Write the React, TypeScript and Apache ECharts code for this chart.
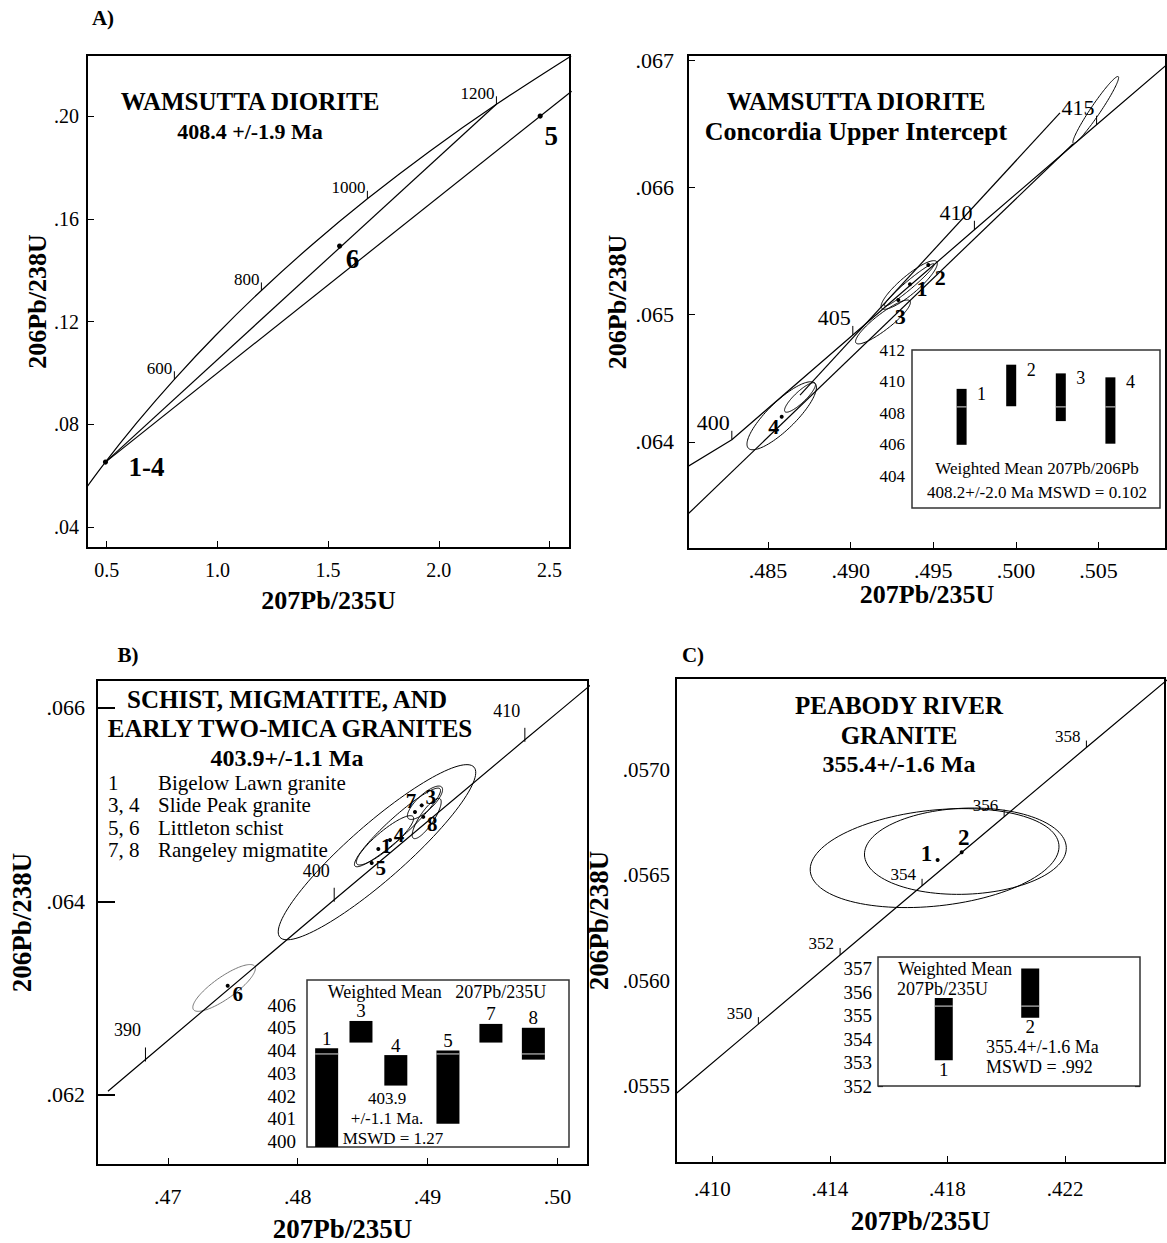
import React, { useEffect, useRef } from "react";
import * as echarts from "echarts";

const FONT = '"Liberation Serif", "DejaVu Serif", serif';

// ---------------- Panel A (left) ----------------
const aLeftConcordiaAges = [300, 400, 500, 600, 700, 800, 900, 1000, 1100, 1200, 1300];
const aLeftConcordiaX = [0.34374, 0.48281, 0.63628, 0.80563, 0.99251, 1.19873, 1.42629, 1.67741, 1.95452, 2.2603, 2.59774];
const aLeftConcordiaY = [0.047637, 0.064016, 0.08065, 0.097544, 0.114702, 0.132129, 0.149828, 0.167804, 0.186061, 0.204603, 0.223435];
const aLeftTickAges = [600, 800, 1000, 1200];
const aLeftPointLabels = ["1-4", "6", "5"];
const aLeftPointX = [0.4945, 1.552, 2.458];
const aLeftPointY = [0.0653, 0.1494, 0.2];
const aLeftDiscordUpperX = [0.4945, 2.26];
const aLeftDiscordUpperY = [0.0653, 0.2046];
const aLeftDiscordLowerX = [0.4945, 2.6];
const aLeftDiscordLowerY = [0.0653, 0.2097];
const aLeftXTicks = [0.5, 1.0, 1.5, 2.0, 2.5];
const aLeftYTicks = [0.04, 0.08, 0.12, 0.16, 0.2];

// ---------------- Panel A (right) ----------------
const aRightConcordiaAges = [398, 400, 405, 410, 415, 420];
const aRightConcordiaX = [0.479893, 0.482811, 0.490131, 0.497488, 0.50488, 0.512308];
const aRightConcordiaY = [0.063786, 0.064016, 0.064841, 0.065668, 0.066494, 0.067322];
const aRightTickAges = [400, 405, 410, 415];
const aRightLowerLineX = [0.48016, 0.503451];
const aRightLowerLineY = [0.063432, 0.066343];
const aRightUpperLineX = [0.486936, 0.502665];
const aRightUpperLineY = [0.064368, 0.066587];
// ellipses: [cx, cy, ax, ay, bx, by] (centre and two conjugate half-axes, data units)
const aRightEllipses = [
  [0.485829, 0.064205, 0.002015, 0.0002557, 0.000593, -0.0000787],
  [0.486936, 0.064349, 0.000907, 0.0001117, 0.00023, -0.0000315],
  [0.493542, 0.065234, 0.001664, 0.0001833, 0.000351, -0.0000543],
  [0.493542, 0.065234, 0.0015, 0.000165, 0.000157, -0.0000244],
  [0.491957, 0.064943, 0.001633, 0.0001652, 0.000296, -0.0000496],
  [0.50483, 0.066611, 0.001361, 0.000262, 0.000248, -0.000022],
];
const aRightPointLabels = ["1", "2", "3", "4"];
const aRightPointX = [0.49359, 0.494698, 0.492883, 0.485829];
const aRightPointY = [0.065239, 0.065391, 0.065116, 0.064197];
const aRightXTicks = [0.485, 0.49, 0.495, 0.5, 0.505];
const aRightYTicks = [0.064, 0.065, 0.066, 0.067];

// inset A (207Pb/206Pb ages)
const aInsetIds = ["1", "2", "3", "4"];
const aInsetPos = [1, 2, 3, 4];
const aInsetLow = [406.0, 408.44, 407.5, 406.07];
const aInsetHigh = [409.54, 411.07, 410.52, 410.27];
const aInsetMean = 408.4;
const aInsetMeanSpan = [0.26, 4.76];
const aInsetYLabels = [404, 406, 408, 410, 412];

// ---------------- Panel B ----------------
const bConcordiaAges = [388, 390, 400, 410, 412, 414];
const bConcordiaX = [0.465392, 0.468281, 0.482811, 0.497488, 0.50044, 0.503399];
const bConcordiaY = [0.062037, 0.062366, 0.064016, 0.065668, 0.065998, 0.066329];
const bTickAges = [390, 400, 410];
const bEllipses = [
  [0.486105, 0.064507, 0.007467, 0.000879, 0.001432, -0.000214],
  [0.487683, 0.064763, 0.003272, 0.000399, 0.000523, -0.0000757],
  [0.486721, 0.06463, 0.002156, 0.000245, 0.000454, -0.0000695],
  [0.4898, 0.065018, 0.001286, 0.000162, 0.000423, -0.0000593],
  [0.489931, 0.064855, 0.001024, 0.000204, 0.000447, -0.0000399],
];
const bEllipseSix = [[0.474334, 0.063105, 0.002356, 0.000224, 0.000493, -0.000091]];
const bPointLabels = ["5", "1", "4", "7", "3", "8", "6"];
const bPointX = [0.485697, 0.486205, 0.487106, 0.48903, 0.489546, 0.489669, 0.474611];
const bPointY = [0.064395, 0.064541, 0.064633, 0.064923, 0.064991, 0.064872, 0.063127];
const bXTicks = [0.47, 0.48, 0.49, 0.5];
const bYTicks = [0.062, 0.064, 0.066];
const bLegendIds = ["1", "3, 4", "5, 6", "7, 8"];
const bLegendNames = ["Bigelow Lawn granite", "Slide Peak granite", "Littleton schist", "Rangeley migmatite"];

// inset B (207Pb/235U ages)
const bInsetIds = ["1", "3", "4", "5", "7", "8"];
const bInsetPos = [7.5, 20.6, 33.9, 53.8, 70.2, 86.4];
const bInsetLow = [399.5, 404.35, 402.46, 400.78, 404.35, 403.6];
const bInsetHigh = [404.1, 405.3, 403.8, 404.0, 405.17, 405.0];
const bInsetMean = 403.85;
const bInsetMeanSpan = [0, 100];
const bInsetYLabels = [400, 401, 402, 403, 404, 405, 406];

// ---------------- Panel C ----------------
const cConcordiaAges = [348, 350, 352, 354, 356, 358, 360];
const cConcordiaX = [0.408786, 0.411564, 0.414346, 0.417135, 0.419929, 0.422728, 0.425534];
const cConcordiaY = [0.055467, 0.055794, 0.056122, 0.05645, 0.056778, 0.057106, 0.057434];
const cTickAges = [350, 352, 354, 356, 358];
const cEllipses = [
  [0.417562, 0.0565816, 0.00423, 0.0000636, 0.000174, -0.000226],
  [0.41861, 0.0566143, 0.003434, 0.000018, 0.0000545, -0.000204],
];
const cPointLabels = ["1", "2"];
const cPointX = [0.417664, 0.418484];
const cPointY = [0.0565726, 0.0566091];
const cXTicks = [0.41, 0.414, 0.418, 0.422];
const cYTicks = [0.0555, 0.056, 0.0565, 0.057];

// inset C
const cInsetIds = ["1", "2"];
const cInsetPos = [25.1, 58.1];
const cInsetLow = [353.1, 354.9];
const cInsetHigh = [355.75, 357.0];
const cInsetMean = 355.4;
const cInsetMeanSpan = [0, 82.8];
const cInsetYLabels = [352, 353, 354, 355, 356, 357];

// ---------------- helpers ----------------
const strip0 = (s: string) => s.replace(/^0/, "");
const pick = (ages: number[], arr: number[], sel: number[]) => sel.map((a) => arr[ages.indexOf(a)]);

function lineSeries(xi: number, xs: number[], ys: number[], opt: any = {}) {
  return {
    type: "line",
    xAxisIndex: xi,
    yAxisIndex: xi,
    data: xs.map((x, i) => [x, ys[i]]),
    symbol: "none",
    smooth: opt.smooth ?? false,
    clip: true,
    silent: true,
    z: 3,
    lineStyle: { color: opt.color ?? "#000", width: opt.width ?? 1.2 },
  };
}

function ellipseSeries(xi: number, items: number[][], color = "#000", width = 1) {
  return {
    type: "custom",
    xAxisIndex: xi,
    yAxisIndex: xi,
    clip: true,
    silent: true,
    z: 3,
    data: items,
    renderItem: (_p: any, api: any) => {
      const cx = api.value(0), cy = api.value(1), ax = api.value(2), ay = api.value(3), bx = api.value(4), by = api.value(5);
      const pts: number[][] = [];
      for (let k = 0; k <= 120; k++) {
        const t = (k / 120) * Math.PI * 2;
        pts.push(api.coord([cx + ax * Math.cos(t) + bx * Math.sin(t), cy + ay * Math.cos(t) + by * Math.sin(t)]));
      }
      return { type: "polyline", shape: { points: pts }, style: { fill: null, stroke: color, lineWidth: width } };
    },
  };
}

function concTickSeries(xi: number, xs: number[], ys: number[], ages: number[], cfg: any) {
  return {
    type: "custom",
    xAxisIndex: xi,
    yAxisIndex: xi,
    clip: false,
    silent: true,
    z: 4,
    data: xs.map((x, i) => [x, ys[i], ages[i]]),
    renderItem: (_p: any, api: any) => {
      const p = api.coord([api.value(0), api.value(1)]);
      return {
        type: "group",
        children: [
          { type: "line", shape: { x1: p[0], y1: p[1] + cfg.t1, x2: p[0], y2: p[1] + cfg.t2 }, style: { stroke: "#000", lineWidth: 1 } },
          {
            type: "text",
            x: p[0] + cfg.lx,
            y: p[1] + cfg.ly,
            style: { text: String(api.value(2)), font: `${cfg.size}px ${FONT}`, fill: "#000", textAlign: cfg.align, textVerticalAlign: "middle" },
          },
        ],
      };
    },
  };
}

function pointSeries(xi: number, labels: string[], xs: number[], ys: number[], offsets: number[][], size: number, r: number) {
  return {
    type: "custom",
    xAxisIndex: xi,
    yAxisIndex: xi,
    clip: false,
    silent: true,
    z: 6,
    data: xs.map((x, i) => [x, ys[i], i]),
    renderItem: (_p: any, api: any) => {
      const i = api.value(2);
      const p = api.coord([api.value(0), api.value(1)]);
      return {
        type: "group",
        children: [
          { type: "circle", shape: { cx: p[0], cy: p[1], r }, style: { fill: "#000" } },
          {
            type: "text",
            x: p[0] + offsets[i][0],
            y: p[1] + offsets[i][1],
            style: { text: labels[i], font: `bold ${size}px ${FONT}`, fill: "#000", textAlign: "center", textVerticalAlign: "middle" },
          },
        ],
      };
    },
  };
}

function barsSeries(xi: number, ids: string[], pos: number[], low: number[], high: number[], mean: number, cfg: any) {
  return {
    type: "custom",
    xAxisIndex: xi,
    yAxisIndex: xi,
    clip: true,
    silent: true,
    z: 6,
    data: pos.map((p, i) => [p, low[i], high[i], i]),
    renderItem: (_p: any, api: any) => {
      const i = api.value(3);
      const top = api.coord([api.value(0), api.value(2)]);
      const bot = api.coord([api.value(0), api.value(1)]);
      const m = api.coord([api.value(0), mean]);
      const w = cfg.w;
      const children: any[] = [
        { type: "rect", shape: { x: top[0] - w / 2, y: top[1], width: w, height: bot[1] - top[1] }, style: { fill: "#000" } },
      ];
      if (api.value(1) < mean && api.value(2) > mean) {
        children.push({ type: "line", shape: { x1: top[0] - w / 2, y1: m[1], x2: top[0] + w / 2, y2: m[1] }, style: { stroke: "#bbb", lineWidth: 1.2 } });
      }
      const ly = cfg.below ? bot[1] + cfg.ly : top[1] + cfg.ly;
      children.push({
        type: "text",
        x: top[0] + cfg.lx,
        y: ly,
        style: { text: ids[i], font: `${cfg.size}px ${FONT}`, fill: "#000", textAlign: "center", textVerticalAlign: "middle" },
      });
      return { type: "group", children };
    },
  };
}

function meanSeries(xi: number, span: number[], mean: number, color: string, width: number) {
  return {
    type: "line",
    xAxisIndex: xi,
    yAxisIndex: xi,
    data: span.map((x) => [x, mean]),
    symbol: "none",
    silent: true,
    z: 4,
    lineStyle: { color, width },
  };
}

function mainX(gi: number, min: number, max: number, ticks: number[], fmt: any, gap: number, margin: number, size: number, nameSize: number) {
  return {
    type: "value",
    gridIndex: gi,
    min,
    max,
    name: "207Pb/235U",
    nameLocation: "middle",
    nameGap: gap,
    nameTextStyle: { fontFamily: FONT, fontSize: nameSize, fontWeight: "bold", color: "#000" },
    axisLine: { show: false },
    splitLine: { show: false },
    axisTick: { show: true, inside: true, length: 7, lineStyle: { color: "#000", width: 1 }, customValues: ticks },
    axisLabel: { show: true, customValues: ticks, formatter: fmt, fontFamily: FONT, fontSize: size, color: "#000", margin },
  };
}

function mainY(gi: number, min: number, max: number, ticks: number[], fmt: any, gap: number, margin: number, size: number, nameSize: number, tickLen = 7, tickW = 1, showTick = true) {
  return {
    type: "value",
    gridIndex: gi,
    min,
    max,
    name: "206Pb/238U",
    nameLocation: "middle",
    nameGap: gap,
    nameTextStyle: { fontFamily: FONT, fontSize: nameSize, fontWeight: "bold", color: "#000" },
    axisLine: { show: false },
    splitLine: { show: false },
    axisTick: { show: showTick, inside: true, length: tickLen, lineStyle: { color: "#000", width: tickW }, customValues: ticks },
    axisLabel: { show: true, customValues: ticks, formatter: fmt, fontFamily: FONT, fontSize: size, color: "#000", margin },
  };
}

function insetX(gi: number, min: number, max: number) {
  return { type: "value", gridIndex: gi, min, max, show: false, splitLine: { show: false } };
}

function insetY(gi: number, min: number, max: number, labels: number[], size: number, margin: number, position = "left", showLabel = true) {
  return {
    type: "value",
    gridIndex: gi,
    min,
    max,
    position,
    axisLine: { show: false },
    splitLine: { show: false },
    axisTick: { show: true, inside: true, length: 5, lineStyle: { color: "#000", width: 1.2 }, customValues: labels },
    axisLabel: { show: showLabel, customValues: labels, fontFamily: FONT, fontSize: size, color: "#000", margin },
  };
}

function txt(text: string, x: number, y: number, size: number, bold = false, align = "center") {
  return {
    type: "text",
    x,
    y,
    z: 20,
    style: { text, font: `${bold ? "bold " : ""}${size}px ${FONT}`, fill: "#000", textAlign: align, textVerticalAlign: "middle" },
  };
}

function buildOption() {
  const frame = { show: true, borderColor: "#000", borderWidth: 2, backgroundColor: "transparent", containLabel: false };
  const insetFrame = { show: true, borderColor: "#333", borderWidth: 1.5, backgroundColor: "#fff", containLabel: false, z: 5 };
  const grid = [
    { ...frame, left: 87, top: 55, width: 483, height: 493 },
    { ...frame, left: 688, top: 55, width: 478, height: 494 },
    { ...frame, left: 97, top: 680, width: 491, height: 490 },
    { ...frame, left: 676, top: 678, width: 489, height: 485 },
    { ...insetFrame, left: 912, top: 350, width: 248, height: 158 },
    { ...insetFrame, left: 307, top: 980, width: 262, height: 167 },
    { ...insetFrame, left: 878, top: 957, width: 262, height: 129 },
  ];

  const xAxis = [
    mainX(0, 0.411, 2.5926, aLeftXTicks, (v: number) => v.toFixed(1), 39, 12, 20, 26),
    mainX(1, 0.48016, 0.50908, aRightXTicks, (v: number) => strip0(v.toFixed(3)), 32, 10, 22, 26),
    mainX(2, 0.46455, 0.50235, bXTicks, (v: number) => strip0(v.toFixed(2)), 50, 20, 22, 27),
    mainX(3, 0.408761, 0.425403, cXTicks, (v: number) => strip0(v.toFixed(3)), 44, 15, 21, 27),
    insetX(4, 0, 5),
    insetX(5, 0, 100),
    insetX(6, 0, 100),
  ];
  const yAxis = [
    mainY(0, 0.03186, 0.22379, aLeftYTicks, (v: number) => strip0(v.toFixed(2)), 36, 8, 20, 26),
    mainY(1, 0.063157, 0.067043, aRightYTicks, (v: number) => strip0(v.toFixed(3)), 58, 14, 22, 26),
    mainY(2, 0.061276, 0.066286, bYTicks, (v: number) => strip0(v.toFixed(3)), 62, 12, 22, 27, 18, 2),
    mainY(3, 0.055135, 0.057436, cYTicks, (v: number) => strip0(v.toFixed(4)), 64, 6, 21, 27, 7, 1, false),
    insetY(4, 402, 412, aInsetYLabels, 17, 7),
    insetY(5, 399.76, 407.1, bInsetYLabels, 19, 11),
    insetY(6, 352, 357.49, cInsetYLabels, 19, 6),
    insetY(4, 402, 412, [406, 408, 410], 17, 7, "right", false),
    insetY(5, 399.76, 407.1, bInsetYLabels, 19, 11, "right", false),
    insetY(6, 352, 357.49, cInsetYLabels, 19, 6, "right", false),
  ];

  const series: any[] = [
    // A left
    lineSeries(0, aLeftConcordiaX, aLeftConcordiaY, { smooth: 0.35 }),
    lineSeries(0, aLeftDiscordUpperX, aLeftDiscordUpperY),
    lineSeries(0, aLeftDiscordLowerX, aLeftDiscordLowerY),
    concTickSeries(0, pick(aLeftConcordiaAges, aLeftConcordiaX, aLeftTickAges), pick(aLeftConcordiaAges, aLeftConcordiaY, aLeftTickAges), aLeftTickAges, { t1: 0, t2: -8, lx: -2, ly: -11, size: 17, align: "right" }),
    pointSeries(0, aLeftPointLabels, aLeftPointX, aLeftPointY, [[41, 5], [13, 13], [11, 20]], 27, 2.6),
    // A right
    lineSeries(1, aRightConcordiaX, aRightConcordiaY),
    lineSeries(1, aRightLowerLineX, aRightLowerLineY),
    lineSeries(1, aRightUpperLineX, aRightUpperLineY),
    ellipseSeries(1, aRightEllipses),
    concTickSeries(1, pick(aRightConcordiaAges, aRightConcordiaX, aRightTickAges), pick(aRightConcordiaAges, aRightConcordiaY, aRightTickAges), aRightTickAges, { t1: 0, t2: -9, lx: -2, ly: -17, size: 22, align: "right" }),
    pointSeries(1, aRightPointLabels, aRightPointX, aRightPointY, [[12, 4], [12, 12], [2, 17], [-8, 10]], 22, 2),
    // B
    lineSeries(2, bConcordiaX, bConcordiaY),
    ellipseSeries(2, bEllipses),
    ellipseSeries(2, bEllipseSix, "#777", 1),
    concTickSeries(2, pick(bConcordiaAges, bConcordiaX, bTickAges), pick(bConcordiaAges, bConcordiaY, bTickAges), bTickAges, { t1: -12, t2: 2, lx: -18, ly: -29, size: 18, align: "center" }),
    pointSeries(2, bPointLabels, bPointX, bPointY, [[9, 5], [8, -3], [9, -5], [-4, -11], [9, -8], [9, 7], [10, 8]], 21, 2),
    // C
    lineSeries(3, cConcordiaX, cConcordiaY),
    ellipseSeries(3, cEllipses),
    concTickSeries(3, pick(cConcordiaAges, cConcordiaX, cTickAges), pick(cConcordiaAges, cConcordiaY, cTickAges), cTickAges, { t1: -7, t2: 0, lx: -6, ly: -11, size: 17, align: "right" }),
    pointSeries(3, cPointLabels, cPointX, cPointY, [[-11, -6], [2, -15]], 23, 2),
    // insets
    meanSeries(4, aInsetMeanSpan, aInsetMean, "#777", 1.5),
    barsSeries(4, aInsetIds, aInsetPos, aInsetLow, aInsetHigh, aInsetMean, { w: 10, lx: 20, ly: 5, size: 18, below: false }),
    meanSeries(5, bInsetMeanSpan, bInsetMean, "#000", 1.6),
    barsSeries(5, bInsetIds, bInsetPos, bInsetLow, bInsetHigh, bInsetMean, { w: 23, lx: 0, ly: -10, size: 19, below: false }),
    meanSeries(6, cInsetMeanSpan, cInsetMean, "#000", 1.6),
    barsSeries(6, cInsetIds, cInsetPos, cInsetLow, cInsetHigh, cInsetMean, { w: 18, lx: 0, ly: 9, size: 19, below: true }),
  ];

  const graphic: any[] = [
    txt("A)", 103, 18, 21, true),
    txt("B)", 128, 655, 21, true),
    txt("C)", 693, 655, 21, true),
    // A left
    txt("WAMSUTTA DIORITE", 250, 101, 25, true),
    txt("408.4 +/-1.9 Ma", 250, 131, 22, true),
    // A right
    txt("WAMSUTTA DIORITE", 856, 101, 25, true),
    txt("Concordia Upper Intercept", 856, 131, 26, true),
    txt("Weighted Mean 207Pb/206Pb", 1037, 468, 17),
    txt("408.2+/-2.0 Ma MSWD = 0.102", 1037, 492, 17),
    // B
    txt("SCHIST, MIGMATITE, AND", 287, 699, 25, true),
    txt("EARLY TWO-MICA GRANITES", 290, 728, 25, true),
    txt("403.9+/-1.1 Ma", 287, 758, 24, true),
    ...bLegendIds.map((id, i) => txt(id, 108, 783 + i * 22.3, 21, false, "left")),
    ...bLegendNames.map((n, i) => txt(n, 158, 783 + i * 22.3, 21, false, "left")),
    txt("Weighted Mean   207Pb/235U", 437, 992, 18),
    txt("403.9", 387, 1098, 17),
    txt("+/-1.1 Ma.", 387, 1118, 17),
    txt("MSWD = 1.27", 393, 1138, 17),
    // C
    txt("PEABODY RIVER", 899, 705, 25, true),
    txt("GRANITE", 899, 735, 25, true),
    txt("355.4+/-1.6 Ma", 899, 764, 24, true),
    txt("Weighted Mean", 898, 969, 18, false, "left"),
    txt("207Pb/235U", 897, 989, 18, false, "left"),
    txt("355.4+/-1.6 Ma", 986, 1047, 18, false, "left"),
    txt("MSWD = .992", 986, 1067, 18, false, "left"),
  ];

  return { animation: false, backgroundColor: "#fff", grid, xAxis, yAxis, series, graphic };
}

export default function App() {
  const ref = useRef<HTMLDivElement>(null);
  useEffect(() => {
    const chart = echarts.init(ref.current as HTMLDivElement, null, { renderer: "svg" });
    chart.setOption(buildOption() as any);
    return () => chart.dispose();
  }, []);
  return <div ref={ref} style={{ position: "absolute", left: 0, top: 0, width: 1167, height: 1243, background: "#fff" }} />;
}
